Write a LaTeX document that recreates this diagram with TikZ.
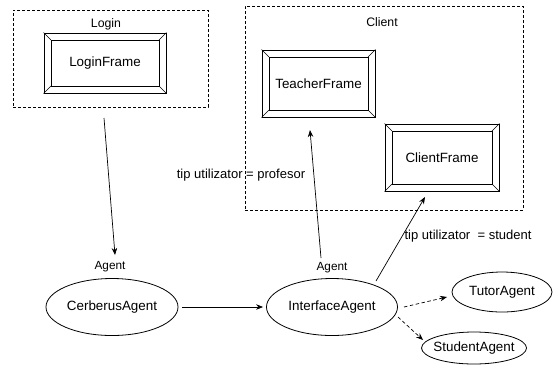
\documentclass[tikz,border=0pt]{standalone}
\usepackage{fontspec}
\setmainfont{Liberation Sans}
\usetikzlibrary{arrows.meta,shapes.geometric,calc}
\newcommand{\bevelframe}[1]{%
  \draw[line width=0.6pt] ($(#1.north west)+(7.5pt,-7.5pt)$) rectangle ($(#1.south east)+(-7.5pt,7.5pt)$);
  \draw[line width=0.6pt] (#1.north west) -- ++(7.5pt,-7.5pt)
    (#1.north east) -- ++(-7.5pt,-7.5pt)
    (#1.south west) -- ++(7.5pt,7.5pt)
    (#1.south east) -- ++(-7.5pt,7.5pt);}
\begin{document}
\begin{tikzpicture}[x=1pt,y=-1pt,
  every node/.style={font=\fontsize{13.4}{15}\selectfont},
  grp/.style={draw, dash pattern=on 3pt off 2pt, line width=0.8pt, rectangle, inner sep=0pt},
  frm/.style={draw, line width=1pt, rectangle, inner sep=0pt},
  agent/.style={draw, ellipse, line width=0.8pt, inner sep=0pt},
  lbl/.style={font=\fontsize{12.3}{14}\selectfont, inner sep=0pt},
  tip/.style={font=\fontsize{13}{15}\selectfont, inner sep=0pt},
  arr/.style={line width=0.7pt, -{Stealth[length=7pt,width=5.5pt]}},
  darr/.style={arr, dash pattern=on 3.5pt off 2.5pt}]
\useasboundingbox (0,0) rectangle (553,365);

% groups
\node[grp, minimum width=195, minimum height=97] (login) at (110.5,58.5) {};
\node[lbl] (loginlbl) at (106,24) {Login};
\node[grp, minimum width=278, minimum height=204] (client) at (384,108) {};
\node[lbl] (clientlbl) at (382,22) {Client};

% frames
\node[frm, minimum width=122, minimum height=60] (loginframe) at (105,63) {LoginFrame};
\bevelframe{loginframe}
\node[frm, minimum width=113, minimum height=67] (teacher) at (318.5,83.5) {TeacherFrame};
\bevelframe{teacher}
\node[frm, minimum width=114, minimum height=67] (clientframe) at (442,157.5) {ClientFrame};
\bevelframe{clientframe}

% agents
\node[agent, minimum width=132, minimum height=57] (cerberus) at (112,307) {\makebox[0pt]{CerberusAgent}};
\node[agent, minimum width=131, minimum height=57] (interface) at (332,307) {\makebox[0pt]{InterfaceAgent}};
\node[agent, minimum width=100, minimum height=40] (tutor) at (502,292) {\makebox[0pt]{TutorAgent}};
\node[agent, minimum width=105, minimum height=32] (student) at (474,348) {\makebox[0pt]{StudentAgent}};

\node[lbl, font=\fontsize{11.8}{14}\selectfont] (ag1) at (110,267) {Agent};
\node[lbl, font=\fontsize{11.8}{14}\selectfont] (ag2) at (332,268) {Agent};

\node[tip] (tip1) at (241,175) {tip utilizator = profesor};
\node[tip] (tip2) at (468,236) {tip utilizator \ = student};

% connector end points
\coordinate (l1) at (104,118);
\coordinate (l2) at (115,255);
\coordinate (t1) at (321,258);
\coordinate (t2) at (310,130);
\coordinate (c1) at (376,281);
\coordinate (c2) at (425,197);
\coordinate (d1) at (404,307);
\coordinate (d2) at (447,297);
\coordinate (e1) at (398,317);
\coordinate (e2) at (423,340);

\draw[arr] (l1) -- (l2);
\draw[arr, shorten <=4pt, shorten >=3pt] (cerberus) -- (interface);
\draw[arr] (t1) -- (t2);
\draw[arr] (c1) -- (c2);
\draw[darr] (d1) -- (d2);
\draw[darr] (e1) -- (e2);
\end{tikzpicture}
\end{document}
